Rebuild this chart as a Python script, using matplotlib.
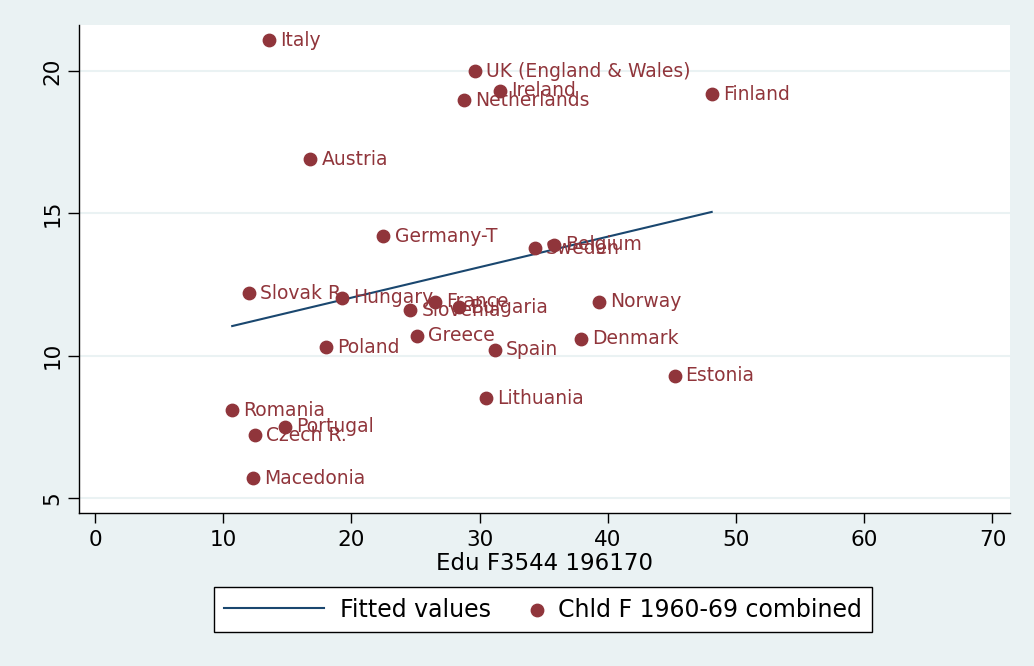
import numpy as np
import matplotlib
matplotlib.use("Agg")
import matplotlib.pyplot as plt
from matplotlib.legend_handler import HandlerPathCollection

# country labels and values
countries = ["Italy", "UK (England & Wales)", "Ireland", "Netherlands", "Finland",
             "Austria", "Germany-T", "Sweden", "Belgium", "Slovak R.", "Hungary",
             "France", "Slovenia", "Bulgaria", "Norway", "Greece", "Poland", "Spain",
             "Denmark", "Estonia", "Lithuania", "Romania", "Portugal", "Czech R.",
             "Macedonia"]
edu = [13.6, 29.6, 31.6, 28.75, 48.1,
       16.8, 22.5, 34.3, 35.8, 12.0, 19.3,
       26.5, 24.6, 28.4, 39.3, 25.1, 18.0, 31.2,
       37.9, 45.2, 30.5, 10.7, 14.8, 12.5,
       12.3]
chld = [21.09, 20.0, 19.3, 18.98, 19.19,
        16.9, 14.2, 13.78, 13.89, 12.2, 12.03,
        11.89, 11.6, 11.7, 11.89, 10.7, 10.3, 10.2,
        10.59, 9.29, 8.51, 8.09, 7.5, 7.21,
        5.7]

# fitted line end points
fit_x = [10.7, 48.1]
fit_y = [11.04, 15.05]

navy = "#1A476F"
maroon = "#90353B"
bg = "#EAF2F3"

plt.rcParams['font.family'] = ['DejaVu Sans']

fig = plt.figure(figsize=(10.34, 6.66), dpi=100, facecolor=bg)
ax = fig.add_axes([0.0764, 0.2297, 0.9004, 0.7328])
ax.set_facecolor("white")

ax.set_xlim(-1.25, 71.37)
ax.set_ylim(4.47, 21.62)

ax.set_yticks([5, 10, 15, 20])
ax.set_xticks(range(0, 80, 10))
ax.grid(axis="y", color=bg, linewidth=1.5)
ax.set_axisbelow(True)

for s in ["top", "right"]:
    ax.spines[s].set_visible(False)
for s in ["left", "bottom"]:
    ax.spines[s].set_color("black")
    ax.spines[s].set_linewidth(1.0)

ax.tick_params(axis="y", length=8, width=1, labelsize=15.5, pad=4)
ax.tick_params(axis="x", length=7, width=1, labelsize=15.5, pad=5)
for lab in ax.get_yticklabels():
    lab.set_rotation(90)
    lab.set_va("center")

line, = ax.plot(fit_x, fit_y, color=navy, linewidth=1.5, label="Fitted values")
pts = ax.scatter(edu, chld, s=80, color=maroon, edgecolor=maroon, zorder=3,
                 label="Chld F 1960-69 combined")

for name, x, y in zip(countries, edu, chld):
    ax.annotate(name, (x, y), xytext=(8, 0), textcoords="offset points",
                va="center", ha="left", color=maroon, fontsize=13.5)

ax.set_xlabel("Edu F3544 196170", fontsize=16.5, labelpad=2)

# marker pushed to the right end of its handle box, like Stata's legend
hl = 4.24
leg = fig.legend(handles=[line, pts], loc="upper center", bbox_to_anchor=(0.525, 0.1186),
                 ncol=2, fontsize=17, frameon=True, fancybox=False, framealpha=1,
                 facecolor="white", edgecolor="black", handlelength=hl,
                 columnspacing=-2.12, borderpad=0.45, borderaxespad=0,
                 handletextpad=0.68, scatterpoints=1,
                 handler_map={pts: HandlerPathCollection(xpad=hl - 0.42)})
leg.get_frame().set_linewidth(1.0)

fig.savefig("out.png", dpi=100, facecolor=bg)
